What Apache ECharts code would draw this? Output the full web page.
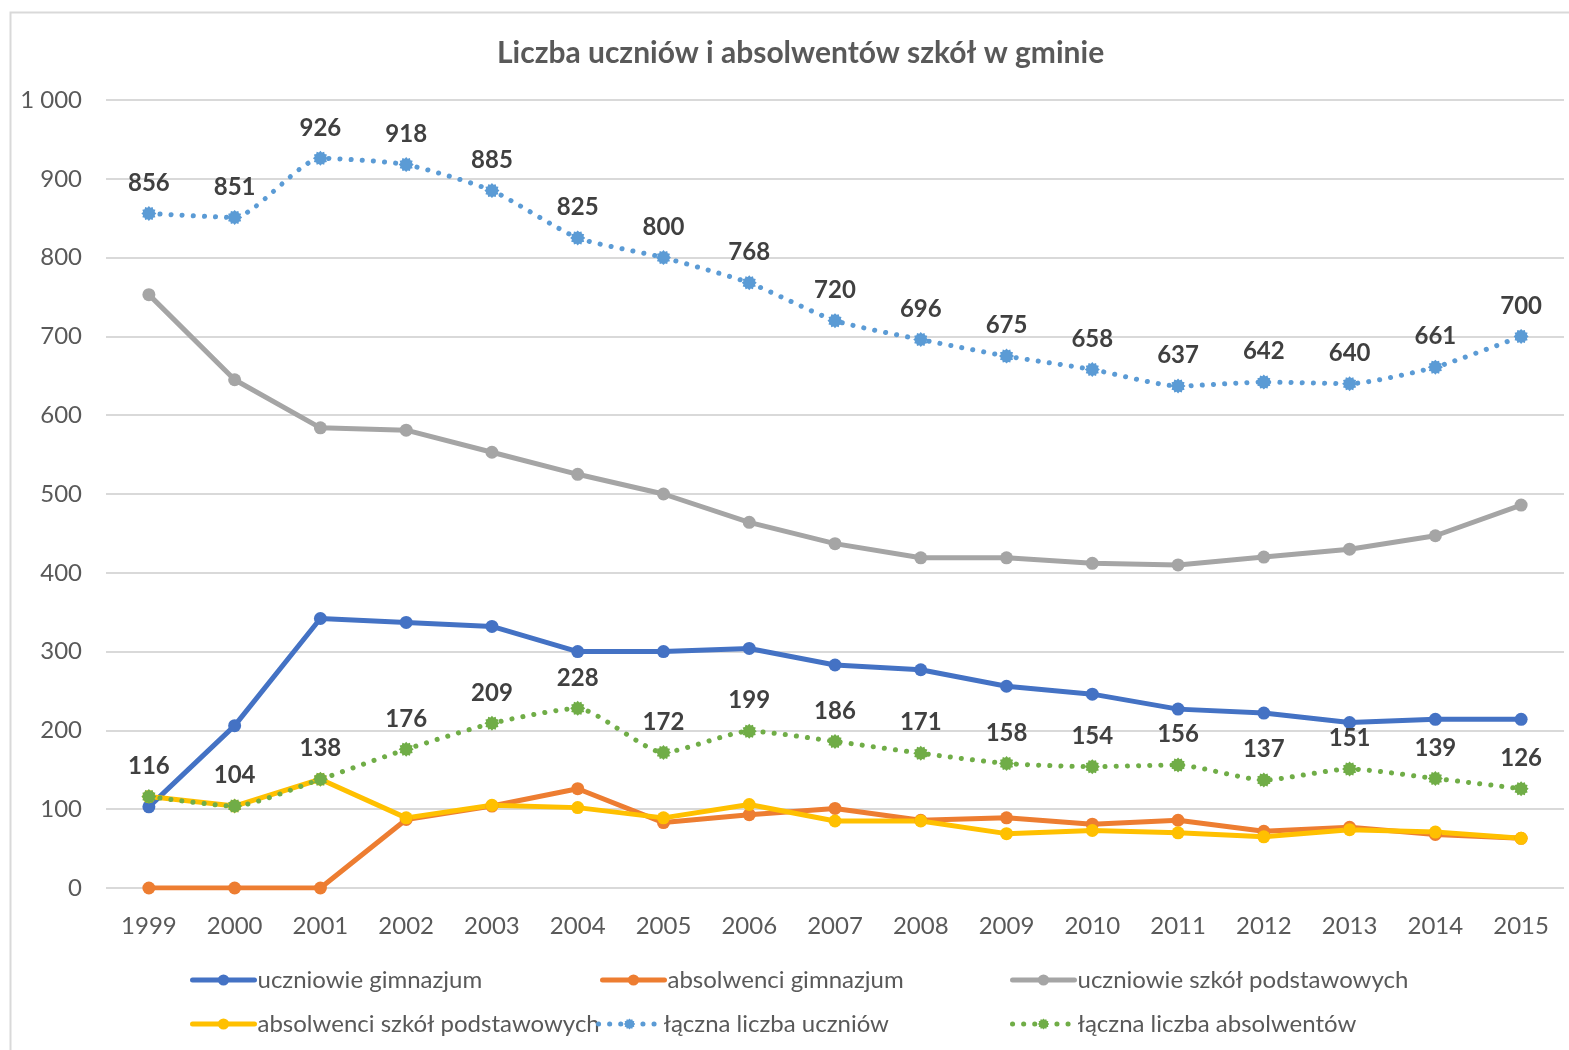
<!DOCTYPE html>
<html>
<head>
<meta charset="utf-8">
<script src="https://cdn.jsdelivr.net/npm/echarts@6/dist/echarts.min.js"></script>
<style>
html,body{margin:0;padding:0;background:#fff;}
#chart{width:1569px;height:1050px;}
</style>
</head>
<body>
<div id="chart"></div>
<script>
const years = ['1999','2000','2001','2002','2003','2004','2005','2006','2007','2008','2009','2010','2011','2012','2013','2014','2015'];
const uczniowieGimnazjum = [103,206,342,337,332,300,300,304,283,277,256,246,227,222,210,214,214];
const absolwenciGimnazjum = [0,0,0,87,104,126,83,93,101,86,89,81,86,72,77,68,63];
const uczniowiePodstawowych = [753,645,584,581,553,525,500,464,437,419,419,412,410,420,430,447,486];
const absolwenciPodstawowych = [116,104,138,89,105,102,89,106,85,85,69,73,70,65,74,71,63];
const lacznaUczniow = [856,851,926,918,885,825,800,768,720,696,675,658,637,642,640,661,700];
const lacznaAbsolwentow = [116,104,138,176,209,228,172,199,186,171,158,154,156,137,151,139,126];
const seriesNames = ['uczniowie gimnazjum','absolwenci gimnazjum','uczniowie szkół podstawowych','absolwenci szkół podstawowych','łączna liczba uczniów','łączna liczba absolwentów'];

const FONT = 'Lato, "Noto Sans", sans-serif';
const chart = echarts.init(document.getElementById('chart'), null, {renderer:'canvas'});

// spiky "gear" marker shape (12-point star)
function starPath(n, rOut, rIn){
  let d = '';
  for (let i = 0; i < 2*n; i++){
    const r = i % 2 ? rIn : rOut;
    const a = Math.PI * i / n;
    const x = (50 + r*Math.cos(a)).toFixed(2), y = (50 + r*Math.sin(a)).toFixed(2);
    d += (i ? 'L' : 'M') + x + ' ' + y;
  }
  return 'path://' + d + 'Z';
}
const STAR = starPath(12, 50, 40);

function solid(name, data, color){
  return {
    name, type:'line', data,
    symbol:'circle', symbolSize:13,
    itemStyle:{color},
    lineStyle:{color, width:5, cap:'round', join:'round'},
    label:{show:false}
  };
}
function dotted(name, data, color){
  return {
    name, type:'line', data, smooth:0.2,
    symbol:STAR, symbolSize:15,
    itemStyle:{color},
    lineStyle:{color, width:5, type:[0.1,11], cap:'round'},
    label:{show:true, position:'top', distance:11, color:'#404040', fontWeight:'bold', fontSize:24, fontFamily:FONT}
  };
}

const legendPos = [[190,968],[600,968],[1010,968],[190,1012],[596,1012],[1010,1012]];

chart.setOption({
  animation:false,
  backgroundColor:'#fff',
  graphic:[{type:'rect', shape:{x:10.5,y:12.5,width:1600,height:1100}, style:{fill:'none', stroke:'#d9d9d9', lineWidth:2}}],
  title:{text:'Liczba uczniów i absolwentów szkół w gminie', left:492, top:33,
    textStyle:{fontFamily:FONT, fontSize:30, fontWeight:'bold', color:'#595959'}},
  grid:{left:106, right:5, top:100, bottom:162},
  legend: seriesNames.map((n,i)=>({data:[n], left:legendPos[i][0], top:legendPos[i][1], padding:0,
    itemWidth:62, itemHeight:14, itemGap:0,
    lineStyle:{width:5},
    textStyle:{fontFamily:FONT, fontSize:24, color:'#595959', padding:[0,0,0,-2]}})),
  xAxis:{type:'category', data:years, boundaryGap:true,
    axisLine:{show:false}, axisTick:{show:false},
    axisLabel:{fontFamily:FONT, fontSize:24, color:'#595959', margin:26}},
  yAxis:{type:'value', min:0, max:1000, interval:100,
    axisLine:{show:false}, axisTick:{show:false},
    splitLine:{lineStyle:{color:'#d9d9d9', width:2}},
    axisLabel:{fontFamily:FONT, fontSize:24, color:'#595959', margin:24,
      formatter:v=> v>=1000 ? String(v).replace(/\B(?=(\d{3})+(?!\d))/g,' ') : String(v)}},
  series:[
    solid(seriesNames[0], uczniowieGimnazjum, '#4472C4'),
    solid(seriesNames[1], absolwenciGimnazjum, '#ED7D31'),
    solid(seriesNames[2], uczniowiePodstawowych, '#A5A5A5'),
    solid(seriesNames[3], absolwenciPodstawowych, '#FFC000'),
    dotted(seriesNames[4], lacznaUczniow, '#5B9BD5'),
    dotted(seriesNames[5], lacznaAbsolwentow, '#70AD47')
  ]
});
</script>
</body>
</html>
